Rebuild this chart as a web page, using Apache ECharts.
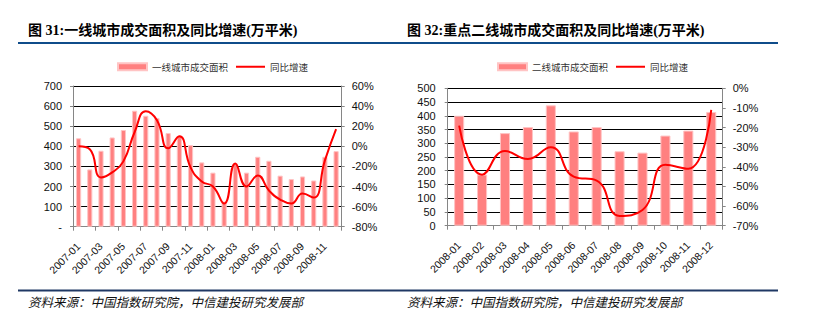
<!DOCTYPE html>
<html><head><meta charset="utf-8">
<script src="https://cdn.jsdelivr.net/npm/echarts@6/dist/echarts.min.js"></script>
<style>html,body{margin:0;padding:0;background:#fff}#c{width:817px;height:333px}</style>
</head><body><div id="c"></div>
<script>
const cats1 = ['2007-01','2007-02','2007-03','2007-04','2007-05','2007-06','2007-07','2007-08','2007-09','2007-10','2007-11','2007-12',
               '2008-01','2008-02','2008-03','2008-04','2008-05','2008-06','2008-07','2008-08','2008-09','2008-10','2008-11','2008-12'];
const area1 = [440,285,378,444,481,577,552,541,466,453,406,320,269,125,315,269,348,328,254,237,250,230,348,376];
const yoy1  = [0,-3,-31,-26,-15,14,35,26,-2,10,-21,-35,-40,-57,-17,-40,-29,-44,-53,-57,-47,-51,-14,17];
const cats2 = ['2008-01','2008-02','2008-03','2008-04','2008-05','2008-06','2008-07','2008-08','2008-09','2008-10','2008-11','2008-12'];
const area2 = [400,186,337,359,438,343,359,271,266,328,346,414];
const yoy2  = [-19,-44,-32,-36,-30,-45,-47,-65,-62,-39,-41,-11];

const title1 = '图 31:一线城市成交面积及同比增速(万平米)';
const title2 = '图 32:重点二线城市成交面积及同比增速(万平米)';
const source = '资料来源：中国指数研究院，中信建投研究发展部';
const name1 = '一线城市成交面积', name2 = '二线城市成交面积', nameL = '同比增速';

const FONT = '"Liberation Sans", Arial, sans-serif';
const CJK = '"Noto Sans CJK SC", sans-serif';
const axisGray = '#868686';

function catAxis(gi, data, interval) {
  return {
    type: 'category', gridIndex: gi, data: data, boundaryGap: true,
    axisLine: { lineStyle: { color: axisGray, width: 1 } },
    axisTick: { show: true, interval: interval, length: 4, lineStyle: { color: axisGray } },
    axisLabel: { interval: interval, rotate: 45, margin: 18, fontSize: 10.5, color: '#111', fontFamily: FONT }
  };
}
function valAxis(gi, min, max, step, pos, split, fmt, margin) {
  return {
    type: 'value', gridIndex: gi, min: min, max: max, interval: step, position: pos,
    axisLine: { show: true, lineStyle: { color: axisGray, width: 1 } },
    axisTick: { show: true, length: 3, lineStyle: { color: axisGray } },
    splitLine: { show: split, lineStyle: { color: '#000', width: 1 } },
    axisLabel: { fontSize: 11, color: '#111', fontFamily: FONT, margin: margin, formatter: fmt }
  };
}
const barStyle = { color: '#FF8080', borderColor: '#FFC4C4', borderWidth: 1 };
const lineStyle = { color: '#FF0000', width: 2 };
const legendText = { fontSize: 9.5, color: '#333', fontFamily: CJK };

const chart = echarts.init(document.getElementById('c'), null, { renderer: 'svg' });
chart.setOption({
  animation: false,
  backgroundColor: '#fff',
  grid: [
    { left: 73, right: 475.3, top: 86, bottom: 106.3 },
    { left: 447.7, right: 94.3, top: 88.3, bottom: 107.3 }
  ],
  legend: [
    { left: 112, top: 57, itemWidth: 29, itemHeight: 7, itemGap: 7, textStyle: legendText,
      data: [{ name: name1, icon: 'rect' }, { name: nameL, itemStyle: { opacity: 0 } }] },
    { left: 492, top: 57, itemWidth: 29, itemHeight: 7, itemGap: 7, textStyle: legendText,
      data: [{ name: name2, icon: 'rect' }, { name: nameL, itemStyle: { opacity: 0 } }] }
  ],
  xAxis: [catAxis(0, cats1, 1), catAxis(1, cats2, 0)],
  yAxis: [
    valAxis(0, 0, 700, 100, 'left', true, v => v === 0 ? '-' : String(v), 11),
    valAxis(0, -80, 60, 20, 'right', false, '{value}%', 10),
    valAxis(1, 0, 500, 50, 'left', true, '{value}', 12),
    valAxis(1, -70, 0, 10, 'right', false, '{value}%', 10)
  ],
  series: [
    { name: name1, type: 'bar', xAxisIndex: 0, yAxisIndex: 0, data: area1, barWidth: '46%', itemStyle: barStyle },
    { name: nameL, type: 'line', xAxisIndex: 0, yAxisIndex: 1, data: yoy1, smooth: 0.5, symbol: 'none', lineStyle: lineStyle, itemStyle: { color: '#FF0000' }, z: 5 },
    { name: name2, type: 'bar', xAxisIndex: 1, yAxisIndex: 2, data: area2, barWidth: '44%', itemStyle: barStyle },
    { name: nameL, type: 'line', xAxisIndex: 1, yAxisIndex: 3, data: yoy2, smooth: 0.5, symbol: 'none', lineStyle: lineStyle, itemStyle: { color: '#FF0000' }, z: 5 }
  ],
  graphic: [
    { type: 'text', left: 28, top: 23, style: { text: title1, fill: '#000', font: 'bold 14px "Liberation Serif", "Noto Sans CJK SC", serif' } },
    { type: 'text', left: 407, top: 23, style: { text: title2, fill: '#000', font: 'bold 14px "Liberation Serif", "Noto Sans CJK SC", serif' } },
    { type: 'rect', shape: { x: 18, y: 42, width: 760, height: 2 }, style: { fill: '#0F4C8A' } },
    { type: 'rect', shape: { x: 18, y: 289.5, width: 760, height: 2 }, style: { fill: '#1F3864' } },
    { type: 'text', left: 28, top: 295, style: { text: source, fill: '#111', font: 'italic 12.5px "Noto Sans CJK SC", sans-serif' } },
    { type: 'text', left: 407, top: 295, style: { text: source, fill: '#111', font: 'italic 12.5px "Noto Sans CJK SC", sans-serif' } }
  ]
});
</script></body></html>
